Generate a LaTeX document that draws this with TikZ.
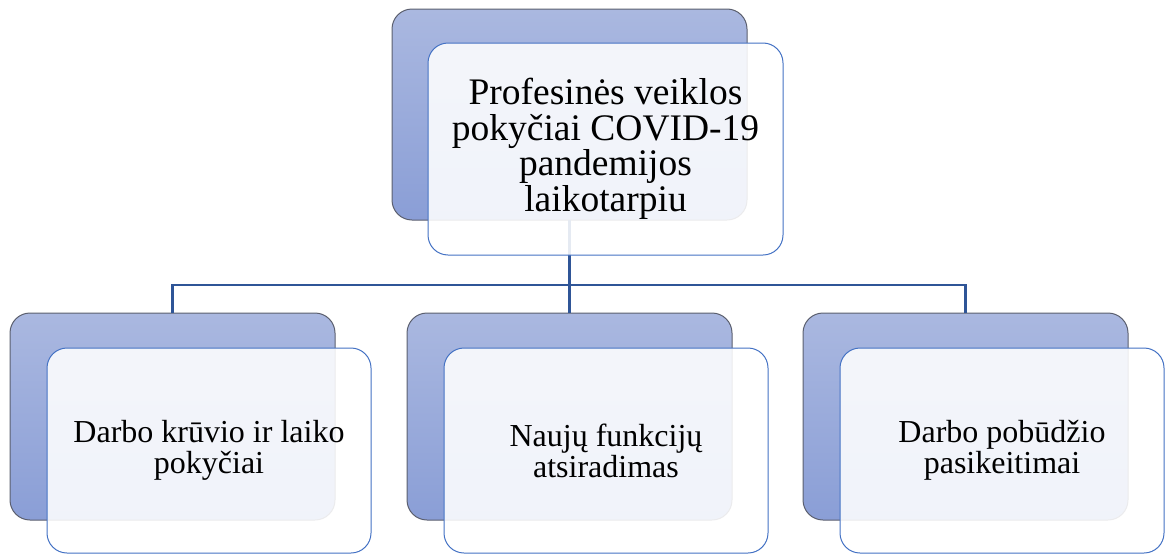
\documentclass[tikz,border=0pt]{standalone}
\usepackage{fontspec}
\setmainfont{Liberation Serif}
\usepackage{tikz}
\usetikzlibrary{positioning}

\definecolor{backtop}{HTML}{AAB8E0}
\definecolor{backbot}{HTML}{8A9ED6}
\definecolor{backline}{HTML}{5B5F6E}
\definecolor{frontline}{HTML}{4472C4}
\definecolor{linkblue}{HTML}{2F5597}

\begin{document}
\begin{tikzpicture}[
    x=1pt, y=-1pt,
    backbox/.style={rectangle, draw=backline, line width=1pt, rounded corners=20pt, top color=backtop, bottom color=backbot, inner sep=0pt, outer sep=0pt},
    frontbox/.style={rectangle, draw=frontline, line width=1pt, rounded corners=20pt, fill=white, fill opacity=0.88, text opacity=1, align=center, inner sep=0pt, outer sep=0pt},
    link/.style={draw=linkblue, line width=2.4pt}
]
\useasboundingbox (0,0) rectangle (1169,554);

% Back boxes
\node[backbox, minimum width=355pt, minimum height=211pt] (topback) at (569.5,114.5) {};
\node[backbox, minimum width=325pt, minimum height=207pt] (leftback) at (172.5,416.5) {};
\node[backbox, minimum width=325pt, minimum height=207pt] (midback) at (569.5,416.5) {};
\node[backbox, minimum width=325pt, minimum height=207pt] (rightback) at (965.5,416.5) {};

% Connectors
\coordinate (hub) at (569.5,285);
\draw[link] (topback.south) -- (hub);
\draw[link] (hub) -| (leftback.north);
\draw[link] (hub) -- (midback.north);
\draw[link] (hub) -| (rightback.north);

% Front boxes
\node[frontbox, minimum width=355pt, minimum height=212pt, font=\fontsize{37.5}{35.5}\selectfont] (topfront) at ([xshift=36pt, yshift=-34.5pt]topback) {Profesinės veiklos\\pokyčiai COVID-19\\pandemijos\\laikotarpiu};
\node[frontbox, minimum width=324pt, minimum height=205pt, font=\fontsize{32}{31}\selectfont] (leftfront) at ([xshift=36.5pt, yshift=-34pt]leftback) {Darbo krūvio ir laiko\\pokyčiai};
\node[frontbox, minimum width=324pt, minimum height=205pt, font=\fontsize{32}{31}\selectfont] (midfront) at ([xshift=36.5pt, yshift=-34pt]midback) {Naujų funkcijų\\atsiradimas};
\node[frontbox, minimum width=324pt, minimum height=205pt, font=\fontsize{32}{31}\selectfont] (rightfront) at ([xshift=36.5pt, yshift=-34pt]rightback) {Darbo pobūdžio\\pasikeitimai};

\end{tikzpicture}
\end{document}
